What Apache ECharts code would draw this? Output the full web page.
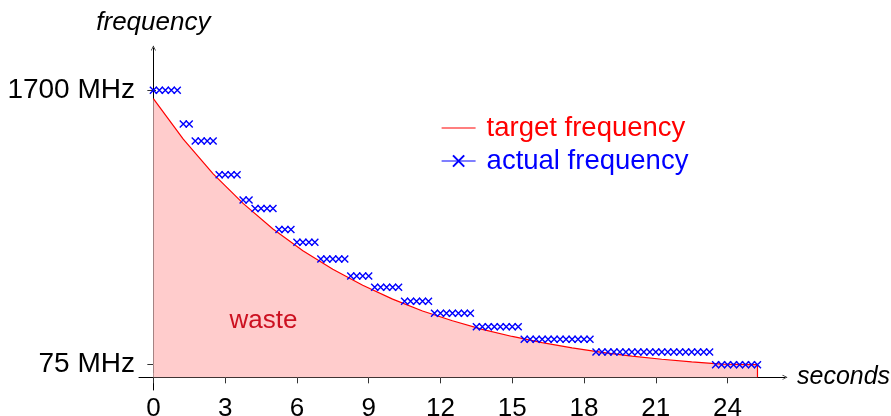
<!DOCTYPE html>
<html>
<head>
<meta charset="utf-8">
<script src="https://cdn.jsdelivr.net/npm/echarts@6/dist/echarts.min.js"></script>
<style>
  html, body { margin: 0; padding: 0; background: #fff; }
  #chart { width: 891px; height: 416px; }
</style>
</head>
<body>
<div id="chart"></div>
<script>
// target frequency (MHz)
const targetTimes = [0, 1.25, 2.5, 3.75, 5, 6.25, 7.5, 8.75, 10, 11.25, 12.5, 13.75,
  15, 16.25, 17.5, 18.75, 20, 21.25, 22.5, 23.75, 25, 25.25];
const targetValues = [1650, 1410, 1205, 1030, 878, 750, 640, 545, 463, 393, 335, 284,
  242, 205, 174, 148, 126, 107, 91, 78, 75, 75];

// actual frequency: one sample every 0.25 s, held at each level for a number of samples
const sampleStep = 0.25;
const actualLevels = [1700, 1500, 1400, 1200, 1050, 1000, 875, 800, 700, 600, 533, 450, 380, 300, 225, 150, 75];
const actualCounts = [5, 2, 4, 4, 2, 4, 3, 4, 5, 4, 5, 5, 7, 8, 12, 20, 8];

const xTicks = [0, 3, 6, 9, 12, 15, 18, 21, 24];
const yTicks = [75, 1700];
const wasteLabelAt = [4.6, 332];

const actualData = [];
actualLevels.forEach((v, k) => {
  for (let j = 0; j < actualCounts[k]; j++) {
    actualData.push([actualData.length * sampleStep, v]);
  }
});

const targetData = targetTimes.map((t, i) => [t, targetValues[i]]);
// close the shaded area with the vertical edge at the last sample
targetData.push([targetTimes[targetTimes.length - 1], 0]);

const FONT = 'Liberation Sans';
const ink = '#000';
const tickInk = '#333';
const chevron = 'path://M0,10L5,0L10,10L8.6,10L5,2.6L1.4,10Z';
const xMin = -0.6, xMax = 26.4, yMin = -75, yMax = 1950;

let chart = echarts.init(document.getElementById('chart'), null, { renderer: 'canvas' });

chart.setOption({
  animation: false,
  textStyle: { fontFamily: FONT },
  grid: { left: 139, right: 106, top: 48, bottom: 26, containLabel: false, outerBoundsMode: 'none' },
  legend: {
    orient: 'vertical',
    left: 436,
    top: 109,
    itemWidth: 34,
    itemHeight: 14,
    itemGap: 5,
    selectedMode: false,
    textStyle: { fontFamily: FONT, fontSize: 27.5, lineHeight: 28, padding: [0, 0, 0, 6] },
    data: [
      { name: 'target frequency', textStyle: { color: '#ff0000' },
        itemStyle: { opacity: 0 },
        lineStyle: { color: '#ff0000', width: 1.2, opacity: 1 } },
      { name: 'actual frequency', textStyle: { color: '#0000ff' },
        lineStyle: { color: '#0000ff', width: 1.2, opacity: 1 } }
    ]
  },
  xAxis: [
    {
      type: 'value',
      min: xMin,
      max: xMax,
      name: 'seconds',
      nameLocation: 'end',
      nameGap: 12,
      nameTextStyle: { fontFamily: FONT, fontSize: 25, fontStyle: 'italic', color: '#000' },
      splitLine: { show: false },
      axisLine: { show: true, onZero: true, lineStyle: { color: ink, width: 1 },
        symbol: ['none', chevron], symbolSize: [8, 5] },
      axisTick: { show: true, length: 6, customValues: xTicks, lineStyle: { color: tickInk } },
      axisLabel: { customValues: xTicks, margin: 6, fontSize: 26, color: '#000', fontFamily: FONT }
    },
    {
      // inner half of the tick marks
      type: 'value',
      min: xMin,
      max: xMax,
      position: 'bottom',
      offset: -13,
      splitLine: { show: false },
      axisLine: { show: false, onZero: false },
      axisTick: { show: true, inside: true, length: 4, customValues: xTicks, lineStyle: { color: tickInk } },
      axisLabel: { show: false }
    }
  ],
  yAxis: [
    {
      type: 'value',
      min: yMin,
      max: yMax,
      name: 'frequency',
      nameLocation: 'end',
      nameGap: 12,
      nameTextStyle: { fontFamily: FONT, fontSize: 26, fontStyle: 'italic', color: '#000' },
      splitLine: { show: false },
      axisLine: { show: true, onZero: true, lineStyle: { color: ink, width: 1 },
        symbol: ['none', chevron], symbolSize: [8, 5] },
      axisTick: { show: true, length: 6, customValues: yTicks, lineStyle: { color: tickInk } },
      axisLabel: { customValues: yTicks, margin: 4, fontSize: 28, color: '#000', fontFamily: FONT,
        formatter: v => v + ' MHz' }
    },
    {
      type: 'value',
      min: yMin,
      max: yMax,
      position: 'left',
      offset: -14,
      splitLine: { show: false },
      axisLine: { show: false, onZero: false },
      axisTick: { show: true, inside: true, length: 3, customValues: yTicks, lineStyle: { color: tickInk } },
      axisLabel: { show: false }
    }
  ],
  series: [
    {
      name: 'target frequency',
      type: 'line',
      data: targetData,
      symbol: 'none',
      z: 2,
      lineStyle: { color: '#ff0000', width: 1.2 },
      itemStyle: { color: '#ff0000' },
      areaStyle: { color: '#ffcccc', opacity: 1 },
      markPoint: {
        symbol: 'circle',
        symbolSize: 1,
        itemStyle: { color: 'rgba(0,0,0,0)' },
        label: { show: true, position: 'inside', formatter: 'waste', color: '#cc1020',
          fontSize: 26, fontFamily: FONT },
        data: [{ coord: wasteLabelAt }]
      }
    },
    {
      name: 'actual frequency',
      type: 'line',
      data: actualData,
      z: 3,
      symbol: 'path://M0,0L10,10M10,0L0,10',
      symbolSize: 7,
      showAllSymbol: true,
      lineStyle: { color: '#0000ff', width: 1, opacity: 0 },
      itemStyle: { color: '#0000ff', borderColor: '#0000ff', borderWidth: 1.4 }
    }
  ]
});
</script>
</body>
</html>
